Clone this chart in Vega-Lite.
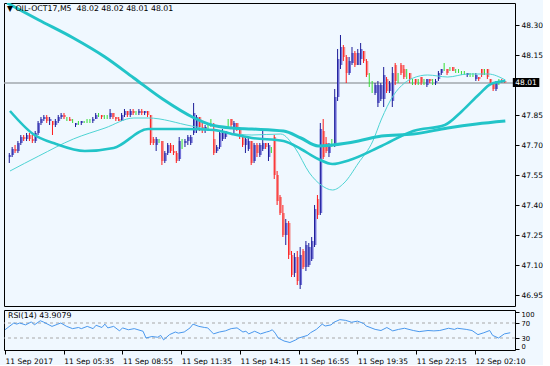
{
  "$schema": "https://vega.github.io/schema/vega-lite/v6.json",
  "background": "#f0f8ff",
  "padding": {"left": 2, "top": 2, "right": 0, "bottom": 0},
  "spacing": 2,
  "datasets": {
    "candles": [
      {"b":0,"o":47.64,"h":47.66,"l":47.61,"c":47.65},{"b":1,"o":47.65,"h":47.69,"l":47.64,"c":47.68},{"b":2,"o":47.68,"h":47.70,"l":47.66,"c":47.67},{"b":3,"o":47.67,"h":47.72,"l":47.66,"c":47.71},{"b":4,"o":47.71,"h":47.75,"l":47.70,"c":47.74},{"b":5,"o":47.74,"h":47.75,"l":47.72,"c":47.73},{"b":6,"o":47.73,"h":47.76,"l":47.72,"c":47.75},{"b":7,"o":47.75,"h":47.76,"l":47.72,"c":47.73},{"b":8,"o":47.73,"h":47.75,"l":47.71,"c":47.72},{"b":9,"o":47.72,"h":47.77,"l":47.71,"c":47.76},
      {"b":10,"o":47.76,"h":47.82,"l":47.75,"c":47.81},{"b":11,"o":47.81,"h":47.84,"l":47.80,"c":47.83},{"b":12,"o":47.83,"h":47.85,"l":47.82,"c":47.84},{"b":13,"o":47.84,"h":47.85,"l":47.81,"c":47.82},{"b":14,"o":47.82,"h":47.84,"l":47.80,"c":47.83},{"b":15,"o":47.82,"h":47.82,"l":47.75,"c":47.80},{"b":16,"o":47.80,"h":47.83,"l":47.79,"c":47.82},{"b":17,"o":47.82,"h":47.85,"l":47.81,"c":47.84},{"b":18,"o":47.84,"h":47.86,"l":47.83,"c":47.85},{"b":19,"o":47.85,"h":47.86,"l":47.83,"c":47.84},
      {"b":20,"o":47.83,"h":47.84,"l":47.82,"c":47.83},{"b":21,"o":47.83,"h":47.84,"l":47.82,"c":47.82},{"b":22,"o":47.82,"h":47.83,"l":47.81,"c":47.82},{"b":23,"o":47.80,"h":47.81,"l":47.79,"c":47.81},{"b":24,"o":47.81,"h":47.82,"l":47.80,"c":47.81},{"b":25,"o":47.81,"h":47.82,"l":47.80,"c":47.82},{"b":26,"o":47.82,"h":47.82,"l":47.81,"c":47.82},{"b":27,"o":47.82,"h":47.83,"l":47.81,"c":47.82},{"b":28,"o":47.82,"h":47.83,"l":47.81,"c":47.82},{"b":29,"o":47.82,"h":47.84,"l":47.81,"c":47.83},
      {"b":30,"o":47.83,"h":47.86,"l":47.83,"c":47.85},{"b":31,"o":47.85,"h":47.86,"l":47.84,"c":47.85},{"b":32,"o":47.85,"h":47.85,"l":47.83,"c":47.84},{"b":33,"o":47.84,"h":47.85,"l":47.83,"c":47.84},{"b":34,"o":47.84,"h":47.85,"l":47.83,"c":47.84},{"b":35,"o":47.84,"h":47.88,"l":47.83,"c":47.86},{"b":36,"o":47.86,"h":47.86,"l":47.83,"c":47.84},{"b":37,"o":47.84,"h":47.84,"l":47.82,"c":47.83},{"b":38,"o":47.83,"h":47.84,"l":47.82,"c":47.82},{"b":39,"o":47.82,"h":47.86,"l":47.82,"c":47.85},
      {"b":40,"o":47.85,"h":47.88,"l":47.84,"c":47.87},{"b":41,"o":47.87,"h":47.87,"l":47.84,"c":47.85},{"b":42,"o":47.85,"h":47.88,"l":47.84,"c":47.87},{"b":43,"o":47.87,"h":47.88,"l":47.85,"c":47.86},{"b":44,"o":47.86,"h":47.87,"l":47.85,"c":47.86},{"b":45,"o":47.86,"h":47.88,"l":47.85,"c":47.87},{"b":46,"o":47.87,"h":47.88,"l":47.85,"c":47.86},{"b":47,"o":47.86,"h":47.87,"l":47.85,"c":47.87},{"b":48,"o":47.87,"h":47.87,"l":47.84,"c":47.85},{"b":49,"o":47.85,"h":47.85,"l":47.70,"c":47.71},
      {"b":50,"o":47.73,"h":47.74,"l":47.70,"c":47.71},{"b":51,"o":47.70,"h":47.74,"l":47.67,"c":47.73},{"b":52,"o":47.72,"h":47.73,"l":47.71,"c":47.72},{"b":53,"o":47.72,"h":47.72,"l":47.60,"c":47.62},{"b":54,"o":47.62,"h":47.67,"l":47.61,"c":47.66},{"b":55,"o":47.66,"h":47.71,"l":47.65,"c":47.70},{"b":56,"o":47.70,"h":47.71,"l":47.66,"c":47.67},{"b":57,"o":47.67,"h":47.70,"l":47.65,"c":47.66},{"b":58,"o":47.66,"h":47.67,"l":47.61,"c":47.62},{"b":59,"o":47.63,"h":47.74,"l":47.62,"c":47.72},
      {"b":60,"o":47.72,"h":47.73,"l":47.68,"c":47.72},{"b":61,"o":47.71,"h":47.73,"l":47.69,"c":47.72},{"b":62,"o":47.72,"h":47.75,"l":47.70,"c":47.74},{"b":63,"o":47.71,"h":47.75,"l":47.70,"c":47.74},{"b":64,"o":47.76,"h":47.91,"l":47.75,"c":47.86},{"b":65,"o":47.78,"h":47.85,"l":47.76,"c":47.84},{"b":66,"o":47.84,"h":47.84,"l":47.77,"c":47.79},{"b":67,"o":47.79,"h":47.81,"l":47.76,"c":47.78},{"b":68,"o":47.78,"h":47.80,"l":47.76,"c":47.79},{"b":69,"o":47.79,"h":47.81,"l":47.77,"c":47.79},
      {"b":70,"o":47.80,"h":47.83,"l":47.79,"c":47.80},{"b":71,"o":47.73,"h":47.81,"l":47.65,"c":47.66},{"b":72,"o":47.67,"h":47.70,"l":47.66,"c":47.69},{"b":73,"o":47.69,"h":47.77,"l":47.68,"c":47.76},{"b":74,"o":47.73,"h":47.78,"l":47.72,"c":47.76},{"b":75,"o":47.74,"h":47.77,"l":47.73,"c":47.77},{"b":76,"o":47.80,"h":47.83,"l":47.79,"c":47.80},{"b":77,"o":47.83,"h":47.83,"l":47.78,"c":47.80},{"b":78,"o":47.79,"h":47.82,"l":47.75,"c":47.81},{"b":79,"o":47.81,"h":47.81,"l":47.77,"c":47.78},
      {"b":80,"o":47.78,"h":47.79,"l":47.73,"c":47.74},{"b":81,"o":47.74,"h":47.75,"l":47.69,"c":47.70},{"b":82,"o":47.70,"h":47.74,"l":47.66,"c":47.73},{"b":83,"o":47.68,"h":47.74,"l":47.67,"c":47.72},{"b":84,"o":47.72,"h":47.72,"l":47.60,"c":47.61},{"b":85,"o":47.62,"h":47.71,"l":47.61,"c":47.70},{"b":86,"o":47.70,"h":47.71,"l":47.64,"c":47.66},{"b":87,"o":47.65,"h":47.71,"l":47.64,"c":47.70},{"b":88,"o":47.68,"h":47.77,"l":47.67,"c":47.71},{"b":89,"o":47.71,"h":47.71,"l":47.68,"c":47.69},
      {"b":90,"o":47.64,"h":47.71,"l":47.62,"c":47.70},{"b":91,"o":47.67,"h":47.69,"l":47.66,"c":47.67},{"b":92,"o":47.74,"h":47.75,"l":47.53,"c":47.55},{"b":93,"o":47.55,"h":47.57,"l":47.40,"c":47.42},{"b":94,"o":47.44,"h":47.45,"l":47.35,"c":47.36},{"b":95,"o":47.36,"h":47.40,"l":47.24,"c":47.25},{"b":96,"o":47.25,"h":47.33,"l":47.20,"c":47.31},{"b":97,"o":47.31,"h":47.32,"l":47.13,"c":47.15},{"b":98,"o":47.15,"h":47.17,"l":47.04,"c":47.05},{"b":99,"o":47.06,"h":47.16,"l":47.04,"c":47.14},
      {"b":100,"o":47.14,"h":47.17,"l":47.00,"c":47.02},{"b":101,"o":47.00,"h":47.19,"l":46.98,"c":47.15},{"b":102,"o":47.17,"h":47.18,"l":47.08,"c":47.09},{"b":103,"o":47.09,"h":47.22,"l":47.07,"c":47.20},{"b":104,"o":47.10,"h":47.21,"l":47.09,"c":47.19},{"b":105,"o":47.13,"h":47.24,"l":47.12,"c":47.22},{"b":106,"o":47.20,"h":47.40,"l":47.19,"c":47.38},{"b":107,"o":47.43,"h":47.45,"l":47.33,"c":47.35},{"b":108,"o":47.36,"h":47.81,"l":47.35,"c":47.78},{"b":109,"o":47.77,"h":47.83,"l":47.63,"c":47.64},
      {"b":110,"o":47.71,"h":47.74,"l":47.66,"c":47.67},{"b":111,"o":47.66,"h":47.71,"l":47.64,"c":47.70},{"b":112,"o":47.70,"h":47.73,"l":47.69,"c":47.70},{"b":113,"o":47.70,"h":47.98,"l":47.69,"c":47.94},{"b":114,"o":47.94,"h":48.18,"l":47.92,"c":48.13},{"b":115,"o":48.10,"h":48.25,"l":48.08,"c":48.19},{"b":116,"o":48.19,"h":48.20,"l":48.12,"c":48.14},{"b":117,"o":48.14,"h":48.15,"l":48.01,"c":48.06},{"b":118,"o":48.06,"h":48.14,"l":48.05,"c":48.12},{"b":119,"o":48.11,"h":48.19,"l":48.10,"c":48.16},
      {"b":120,"o":48.16,"h":48.17,"l":48.09,"c":48.10},{"b":121,"o":48.10,"h":48.18,"l":48.10,"c":48.16},{"b":122,"o":48.13,"h":48.21,"l":48.10,"c":48.18},{"b":123,"o":48.17,"h":48.17,"l":48.11,"c":48.12},{"b":124,"o":48.12,"h":48.13,"l":48.04,"c":48.05},{"b":125,"o":48.02,"h":48.06,"l":47.99,"c":48.02},{"b":126,"o":47.99,"h":48.02,"l":47.96,"c":47.99},{"b":127,"o":47.96,"h":48.01,"l":47.95,"c":48.00},{"b":128,"o":47.91,"h":48.02,"l":47.89,"c":48.00},{"b":129,"o":47.93,"h":48.01,"l":47.92,"c":48.00},
      {"b":130,"o":47.93,"h":48.09,"l":47.89,"c":48.05},{"b":131,"o":48.03,"h":48.04,"l":47.96,"c":47.97},{"b":132,"o":47.97,"h":48.02,"l":47.96,"c":48.01},{"b":133,"o":47.92,"h":48.09,"l":47.89,"c":48.06},{"b":134,"o":48.10,"h":48.11,"l":48.00,"c":48.02},{"b":135,"o":48.04,"h":48.06,"l":48.01,"c":48.04},{"b":136,"o":48.10,"h":48.11,"l":48.05,"c":48.06},{"b":137,"o":48.08,"h":48.10,"l":48.03,"c":48.04},{"b":138,"o":48.04,"h":48.08,"l":48.03,"c":48.04},{"b":139,"o":48.06,"h":48.06,"l":48.01,"c":48.03},
      {"b":140,"o":48.02,"h":48.03,"l":48.00,"c":48.02},{"b":141,"o":48.03,"h":48.03,"l":48.00,"c":48.01},{"b":142,"o":48.02,"h":48.03,"l":48.00,"c":48.02},{"b":143,"o":48.04,"h":48.04,"l":48.00,"c":48.01},{"b":144,"o":48.02,"h":48.03,"l":48.00,"c":48.02},{"b":145,"o":48.00,"h":48.03,"l":47.99,"c":48.03},{"b":146,"o":48.03,"h":48.03,"l":48.01,"c":48.02},{"b":147,"o":48.02,"h":48.03,"l":48.00,"c":48.02},{"b":148,"o":48.01,"h":48.03,"l":48.00,"c":48.02},{"b":149,"o":48.03,"h":48.07,"l":48.02,"c":48.06},
      {"b":150,"o":48.06,"h":48.08,"l":48.05,"c":48.08},{"b":151,"o":48.08,"h":48.11,"l":48.07,"c":48.08},{"b":152,"o":48.08,"h":48.08,"l":48.05,"c":48.06},{"b":153,"o":48.08,"h":48.09,"l":48.07,"c":48.08},{"b":154,"o":48.09,"h":48.09,"l":48.07,"c":48.07},{"b":155,"o":48.07,"h":48.08,"l":48.06,"c":48.07},{"b":156,"o":48.07,"h":48.08,"l":48.06,"c":48.07},{"b":157,"o":48.06,"h":48.07,"l":48.05,"c":48.06},{"b":158,"o":48.06,"h":48.07,"l":48.05,"c":48.06},{"b":159,"o":48.05,"h":48.06,"l":48.04,"c":48.06},
      {"b":160,"o":48.05,"h":48.06,"l":48.04,"c":48.05},{"b":161,"o":48.05,"h":48.06,"l":48.04,"c":48.05},{"b":162,"o":48.03,"h":48.06,"l":48.02,"c":48.05},{"b":163,"o":48.04,"h":48.04,"l":48.02,"c":48.03},{"b":164,"o":48.08,"h":48.08,"l":48.04,"c":48.05},{"b":165,"o":48.07,"h":48.08,"l":48.05,"c":48.07},{"b":166,"o":48.08,"h":48.08,"l":48.03,"c":48.04},{"b":167,"o":48.03,"h":48.03,"l":48.01,"c":48.01},{"b":168,"o":48.01,"h":48.01,"l":47.97,"c":47.98},{"b":169,"o":47.98,"h":48.02,"l":47.97,"c":48.01},
      {"b":170,"o":48.01,"h":48.03,"l":48.00,"c":48.01},{"b":171,"o":48.02,"h":48.03,"l":48.01,"c":48.01},{"b":172,"o":48.02,"h":48.02,"l":48.01,"c":48.01}
    ],
    "ma": [
      {"s":"L","b":-1,"v":48.41},{"s":"L","b":10,"v":48.325},{"s":"L","b":22,"v":48.235},{"s":"L","b":33,"v":48.14},{"s":"L","b":43,"v":48.035},{"s":"L","b":53,"v":47.93},{"s":"L","b":64,"v":47.835},{"s":"L","b":70,"v":47.80},{"s":"L","b":77,"v":47.785},{"s":"L","b":84,"v":47.78},{"s":"L","b":95,"v":47.77},{"s":"L","b":101,"v":47.735},{"s":"L","b":107,"v":47.695},{"s":"L","b":112,"v":47.70},{"s":"L","b":121,"v":47.72},{"s":"L","b":129,"v":47.745},{"s":"L","b":140,"v":47.755},{"s":"L","b":152,"v":47.785},{"s":"L","b":162,"v":47.805},{"s":"L","b":172,"v":47.82},
      {"s":"M","b":0,"v":47.87},{"s":"M","b":8,"v":47.755},{"s":"M","b":16,"v":47.705},{"s":"M","b":26,"v":47.67},{"s":"M","b":36,"v":47.685},{"s":"M","b":48,"v":47.78},{"s":"M","b":60,"v":47.78},{"s":"M","b":71,"v":47.775},{"s":"M","b":77,"v":47.755},{"s":"M","b":84,"v":47.735},{"s":"M","b":95,"v":47.72},{"s":"M","b":101,"v":47.68},{"s":"M","b":107,"v":47.63},{"s":"M","b":112,"v":47.605},{"s":"M","b":118,"v":47.625},{"s":"M","b":129,"v":47.695},{"s":"M","b":140,"v":47.77},{"s":"M","b":151,"v":47.80},{"s":"M","b":157,"v":47.87},{"s":"M","b":163,"v":47.955},{"s":"M","b":167,"v":48.005},{"s":"M","b":172,"v":48.02},
      {"s":"S","b":0,"v":47.57},{"s":"S","b":10,"v":47.645},{"s":"S","b":22,"v":47.73},{"s":"S","b":33,"v":47.785},{"s":"S","b":43,"v":47.835},{"s":"S","b":48,"v":47.835},{"s":"S","b":63,"v":47.795},{"s":"S","b":76,"v":47.76},{"s":"S","b":84,"v":47.75},{"s":"S","b":94,"v":47.755},{"s":"S","b":99,"v":47.685},{"s":"S","b":104,"v":47.56},{"s":"S","b":108,"v":47.50},{"s":"S","b":112,"v":47.475},{"s":"S","b":116,"v":47.51},{"s":"S","b":121,"v":47.61},{"s":"S","b":126,"v":47.72},{"s":"S","b":129,"v":47.83},{"s":"S","b":133,"v":47.945},{"s":"S","b":137,"v":48.01},{"s":"S","b":140,"v":48.035},{"s":"S","b":145,"v":48.05},{"s":"S","b":152,"v":48.04},{"s":"S","b":159,"v":48.055},{"s":"S","b":166,"v":48.055},{"s":"S","b":172,"v":48.025}
    ],
    "rsi": [
      {"b":0,"r":52},{"b":1,"r":58},{"b":3,"r":70},{"b":4,"r":67},{"b":5,"r":70},{"b":7,"r":65},{"b":9,"r":73},{"b":10,"r":65},{"b":12,"r":76},{"b":13,"r":73},{"b":15,"r":65},{"b":16,"r":61},{"b":18,"r":67},{"b":19,"r":70},{"b":21,"r":61},{"b":23,"r":55},{"b":25,"r":58},{"b":26,"r":55},{"b":28,"r":61},{"b":30,"r":55},{"b":31,"r":64},{"b":33,"r":58},{"b":34,"r":67},{"b":35,"r":57},{"b":37,"r":61},{"b":39,"r":49},{"b":40,"r":57},{"b":42,"r":52},{"b":44,"r":55},{"b":47,"r":48},{"b":48,"r":30},{"b":50,"r":34},{"b":52,"r":32},{"b":53,"r":37},{"b":54,"r":25},{"b":56,"r":39},{"b":58,"r":46},{"b":59,"r":43},{"b":61,"r":46},{"b":63,"r":57},{"b":64,"r":67},{"b":66,"r":61},{"b":68,"r":58},{"b":69,"r":57},{"b":71,"r":41},{"b":73,"r":46},{"b":75,"r":49},{"b":77,"r":55},{"b":79,"r":57},{"b":81,"r":46},{"b":82,"r":48},{"b":83,"r":41},{"b":85,"r":48},{"b":87,"r":41},{"b":89,"r":46},{"b":90,"r":48},{"b":91,"r":52},{"b":92,"r":43},{"b":93,"r":30},{"b":95,"r":22},{"b":97,"r":18},{"b":99,"r":25},{"b":100,"r":30},{"b":103,"r":37},{"b":104,"r":44},{"b":106,"r":53},{"b":108,"r":67},{"b":109,"r":62},{"b":111,"r":65},{"b":112,"r":72},{"b":114,"r":79},{"b":116,"r":77},{"b":118,"r":72},{"b":120,"r":75},{"b":122,"r":69},{"b":123,"r":62},{"b":126,"r":53},{"b":128,"r":50},{"b":130,"r":58},{"b":132,"r":49},{"b":134,"r":53},{"b":136,"r":56},{"b":139,"r":50},{"b":141,"r":47},{"b":144,"r":50},{"b":146,"r":49},{"b":148,"r":50},{"b":151,"r":56},{"b":153,"r":53},{"b":154,"r":56},{"b":157,"r":53},{"b":159,"r":50},{"b":161,"r":39},{"b":163,"r":44},{"b":165,"r":50},{"b":166,"r":37},{"b":168,"r":30},{"b":170,"r":41},{"b":172,"r":44}
    ]
  },
  "vconcat": [
    {
      "width": 511,
      "height": 303,
      "title": {"text": "▼ OIL-OCT17,M5\u00a0 48.02 48.02 48.01 48.01", "offset": -10, "dx": 3},
      "layer": [
        {
          "data": {"values": [{"p": 48.01}]},
          "mark": {"type": "rule", "color": "#a2a8ae", "strokeWidth": 1.5},
          "encoding": {
            "y": {"field": "p", "type": "quantitative", "scale": {"domain": [46.895, 48.41], "nice": false, "zero": false},
              "axis": {"orient": "right", "values": [46.95, 47.1, 47.25, 47.4, 47.55, 47.7, 47.85, 48.01, 48.15, 48.3], "tickCount": 50, "labelExpr": "abs(datum.value-48.01)<0.001 ? '' : format(datum.value,'.2f')", "tickSize": 4, "labelPadding": 2, "labelOverlap": false, "labelBound": false, "labelFlush": false}}
          }
        },
        {
          "data": {"name": "candles"},
          "mark": {"type": "bar", "width": 2.4, "clip": true},
          "encoding": {
            "x": {"field": "b", "type": "quantitative", "scale": {"domain": [-0.34, 173.62], "nice": false, "zero": false}, "axis": null},
            "y": {"field": "o", "type": "quantitative"},
            "y2": {"field": "c"},
            "color": {"condition": [{"test": "datum.c > datum.o", "value": "#7474d8"}, {"test": "datum.c < datum.o", "value": "#f28c8c"}], "value": "#33dd33"}
          }
        },
        {
          "data": {"name": "candles"},
          "mark": {"type": "rule", "strokeWidth": 1, "xOffset": -0.7, "clip": true},
          "encoding": {
            "x": {"field": "b", "type": "quantitative"},
            "y": {"field": "l", "type": "quantitative"},
            "y2": {"field": "h"},
            "color": {"condition": [{"test": "datum.c > datum.o", "value": "#1c1c98"}, {"test": "datum.c < datum.o", "value": "#ff1c1c"}], "value": "#33dd33"}
          }
        },
        {
          "data": {"name": "ma"},
          "transform": [{"filter": "datum.s == 'S'"}],
          "mark": {"type": "line", "color": "#4fd4d4", "strokeWidth": 1, "interpolate": "monotone", "clip": true},
          "encoding": {"x": {"field": "b", "type": "quantitative"}, "y": {"field": "v", "type": "quantitative"}}
        },
        {
          "data": {"name": "ma"},
          "transform": [{"filter": "datum.s == 'M'"}],
          "mark": {"type": "line", "color": "#22c4c8", "strokeWidth": 2.6, "interpolate": "monotone", "clip": true},
          "encoding": {"x": {"field": "b", "type": "quantitative"}, "y": {"field": "v", "type": "quantitative"}}
        },
        {
          "data": {"name": "ma"},
          "transform": [{"filter": "datum.s == 'L'"}],
          "mark": {"type": "line", "color": "#22c4c8", "strokeWidth": 3, "interpolate": "monotone", "clip": true},
          "encoding": {"x": {"field": "b", "type": "quantitative"}, "y": {"field": "v", "type": "quantitative"}}
        },
        {
          "data": {"values": [{"x1": 174.6, "x2": 183.8, "y1": 47.99, "y2": 48.035, "t": "48.01", "xm": 179.2, "ym": 48.0125}]},
          "layer": [
            {
              "mark": {"type": "rect", "color": "#000000", "clip": false},
              "encoding": {"x": {"field": "x1", "type": "quantitative"}, "x2": {"field": "x2"}, "y": {"field": "y1", "type": "quantitative"}, "y2": {"field": "y2"}}
            },
            {
              "mark": {"type": "text", "color": "#ffffff", "font": "DejaVu Sans", "fontSize": 7.5, "clip": false, "baseline": "middle"},
              "encoding": {"x": {"field": "xm", "type": "quantitative"}, "y": {"field": "ym", "type": "quantitative"}, "text": {"field": "t"}}
            }
          ]
        }
      ]
    },
    {
      "width": 511,
      "height": 40,
      "title": {"text": "RSI(14) 43.9079", "offset": -10, "dx": 4},
      "layer": [
        {
          "data": {"values": [{"lv": 30}, {"lv": 70}]},
          "mark": {"type": "rule", "color": "#a8a8a8", "strokeDash": [3, 3], "strokeWidth": 1},
          "encoding": {
            "y": {"field": "lv", "type": "quantitative", "scale": {"domain": [-2, 104.7], "nice": false, "zero": false},
              "axis": {"orient": "right", "values": [0, 30, 70, 100], "tickCount": 50, "tickSize": 4, "labelPadding": 2, "labelFontSize": 6.8, "labelOverlap": false, "labelBound": false, "labelFlush": false,
                "labelBaseline": {"condition": [{"test": "datum.value == 100", "value": "top"}, {"test": "datum.value == 0", "value": "bottom"}], "value": "middle"}}}
          }
        },
        {
          "data": {"name": "rsi"},
          "mark": {"type": "line", "color": "#4a98ee", "strokeWidth": 1, "clip": true},
          "encoding": {
            "x": {"field": "b", "type": "quantitative", "scale": {"domain": [-0.34, 173.62], "nice": false, "zero": false},
              "axis": {"orient": "bottom", "values": [0, 20, 40, 60, 80, 100, 120, 140, 160], "tickCount": 50,
                "labelExpr": "['11 Sep 2017','11 Sep 05:35','11 Sep 08:55','11 Sep 11:35','11 Sep 14:15','11 Sep 16:55','11 Sep 19:35','11 Sep 22:15','12 Sep 02:10'][round(datum.value/20)]",
                "labelAlign": "left", "labelFlush": false, "labelOverlap": false, "labelBound": false, "tickSize": 4, "labelPadding": 3}},
            "y": {"field": "r", "type": "quantitative"}
          }
        }
      ]
    }
  ],
  "config": {
    "view": {"stroke": "#000000", "strokeWidth": 1, "fill": "#f0f8ff"},
    "axis": {"labelFont": "DejaVu Sans", "labelFontSize": 7.5, "labelColor": "#000000", "tickColor": "#000000", "domain": false, "grid": false, "title": null, "labelOverlap": false},
    "title": {"font": "DejaVu Sans", "fontSize": 7.8, "fontWeight": "normal", "color": "#000000", "anchor": "start", "frame": "group"}
  }
}
